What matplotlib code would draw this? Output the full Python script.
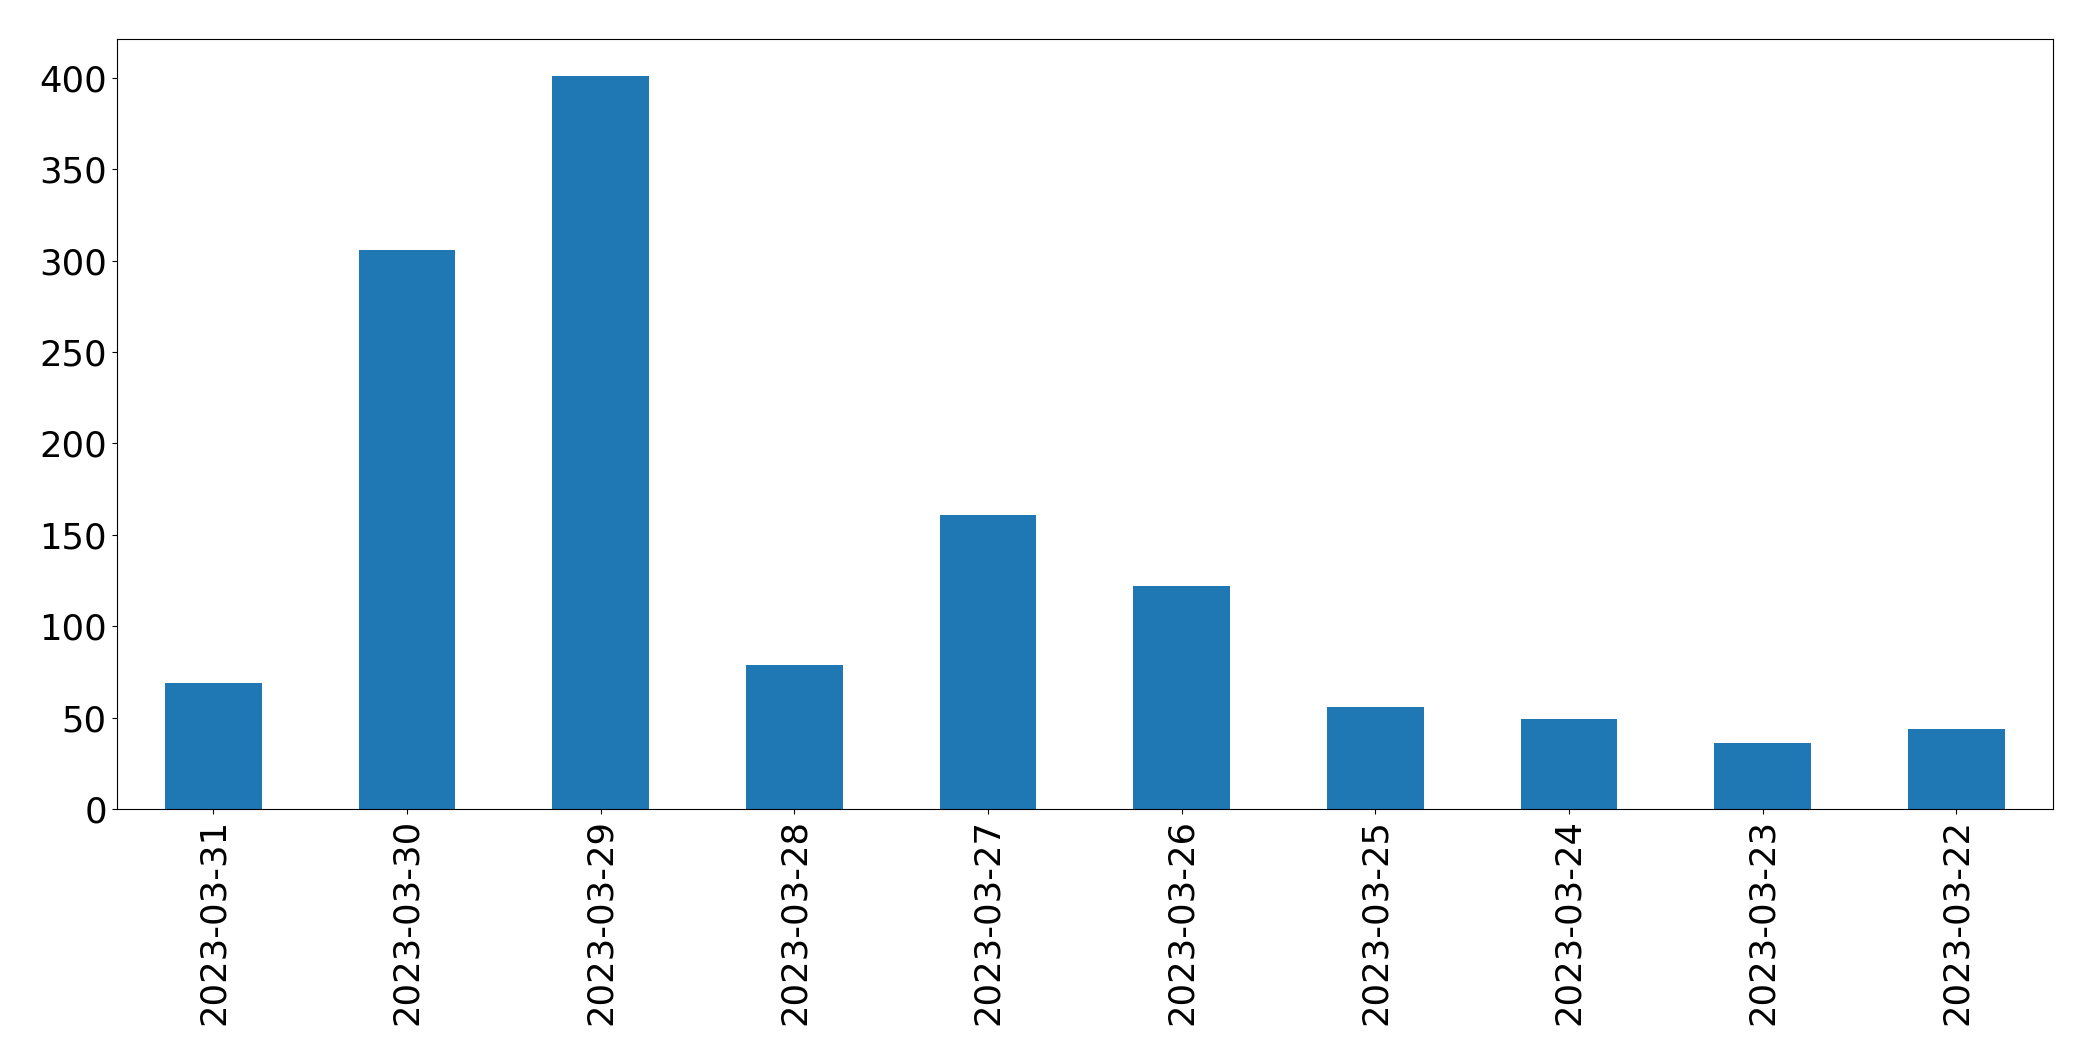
import matplotlib

matplotlib.use("Agg")
import matplotlib.pyplot as plt
import numpy as np

dates = ["2023-03-31", "2023-03-30", "2023-03-29", "2023-03-28", "2023-03-27",
         "2023-03-26", "2023-03-25", "2023-03-24", "2023-03-23", "2023-03-22"]
counts = [69, 306, 401, 79, 161, 122, 56, 49, 36, 44]


def main():
    fig = plt.figure(figsize=(20.93, 10.61), dpi=100)
    ax = fig.add_axes([0.0557, 0.2375, 0.9253, 0.7255])
    x = np.arange(len(dates))
    ax.bar(x, counts, width=0.5, color="#1f77b4")
    ax.set_xlim(-0.5, len(dates) - 0.5)
    ax.set_ylim(0, max(counts) * 1.05)
    ax.set_xticks(x)
    ax.set_xticklabels(dates, rotation=90)
    ax.set_yticks(range(0, 401, 50))
    ax.tick_params(labelsize=25.5)
    fig.savefig("out.png", dpi=100)


if __name__ == "__main__":
    main()
